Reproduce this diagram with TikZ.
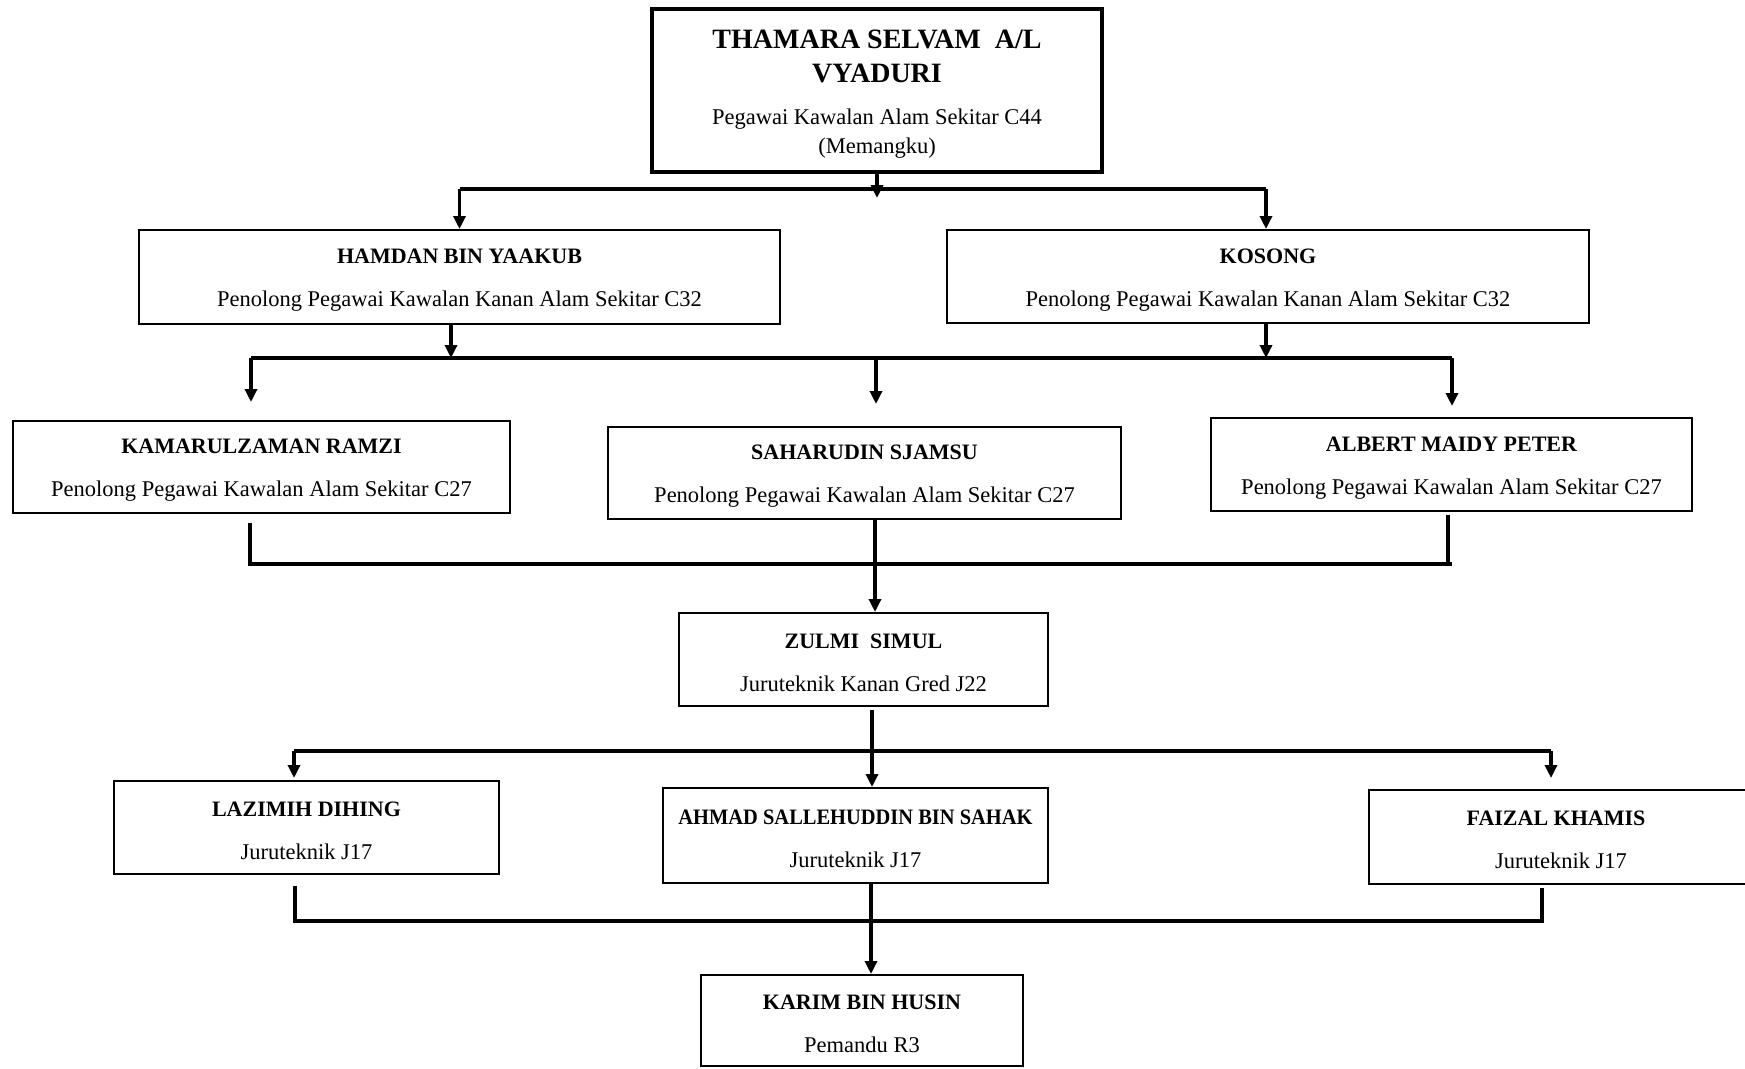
\documentclass[tikz,border=0pt]{standalone}
\usepackage{fontspec}
\setmainfont{Liberation Serif}
\usepackage{graphicx}
\usetikzlibrary{arrows.meta}
\newcommand\card[2]{{\fontsize{22}{26}\selectfont\bfseries\rule{0pt}{21pt}#1}\\[17pt]#2}
\begin{document}
\begin{tikzpicture}[x=1pt,y=-1pt,
  box/.style={draw, line width=2pt, inner sep=0pt, align=center, font=\fontsize{22.5}{26}\selectfont},
  txt/.style={inner sep=0pt, align=center},
  conn/.style={line width=3.3pt},
  arr/.style={conn, -{Triangle[length=13pt,width=12pt]}},
]
\useasboundingbox[fill=white] (0,0) rectangle (1745,1068);
\clip (0,0) rectangle (1745,1068);

% boxes
\node[box, line width=4pt, minimum width=450pt, minimum height=163pt] (top) at (877,90.5) {};
\node[txt, font=\fontsize{28}{34}\selectfont\bfseries] (topname) at (877,56) {THAMARA SELVAM\ \ A/L\\VYADURI};
\node[txt, font=\fontsize{22.5}{29}\selectfont] (topsub) at (877,134) {Pegawai Kawalan Alam Sekitar C44\\(Memangku)};

\node[box, minimum width=641pt, minimum height=94pt] (hamdan) at (459.5,277) {\card{HAMDAN BIN YAAKUB}{Penolong Pegawai Kawalan Kanan Alam Sekitar C32}};
\node[box, minimum width=642pt, minimum height=93pt] (kosong) at (1268,276.5) {\card{KOSONG}{Penolong Pegawai Kawalan Kanan Alam Sekitar C32}};

\node[box, minimum width=497pt, minimum height=92pt] (kam) at (261.5,467) {\card{KAMARULZAMAN RAMZI}{Penolong Pegawai Kawalan Alam Sekitar C27}};
\node[box, minimum width=513pt, minimum height=92pt] (sah) at (864.5,473) {\card{SAHARUDIN SJAMSU}{Penolong Pegawai Kawalan Alam Sekitar C27}};
\node[box, minimum width=481pt, minimum height=93pt] (alb) at (1451.5,464.5) {\card{ALBERT MAIDY PETER}{Penolong Pegawai Kawalan Alam Sekitar C27}};

\node[box, minimum width=369pt, minimum height=93pt] (zul) at (863.5,659.5) {\card{ZULMI\ \ SIMUL}{Juruteknik Kanan Gred J22}};

\node[box, minimum width=385pt, minimum height=93pt] (laz) at (306.5,827.5) {\card{LAZIMIH DIHING}{Juruteknik J17}};
\node[box, minimum width=385pt, minimum height=95pt] (ahm) at (855.5,835.5) {\card{\scalebox{0.93}[1]{AHMAD SALLEHUDDIN BIN SAHAK}}{Juruteknik J17}};
\node[box, minimum width=384pt, minimum height=94pt, anchor=west] (fai) at (1368,837) {\hspace*{-10pt}\card{FAIZAL KHAMIS}{Juruteknik J17}};

\node[box, minimum width=322pt, minimum height=91pt] (kar) at (862,1020.5) {\card{KARIM BIN HUSIN}{Pemandu R3}};

% bus coordinates
\coordinate (b1) at (0,189);
\coordinate (b2) at (0,358);
\coordinate (b3) at (0,564);
\coordinate (b4) at (0,751);
\coordinate (b5) at (0,921);

% level 1
\draw[conn] (hamdan.north |- b1) -- ([xshift=-2pt]kosong.north |- b1);
\draw[arr] (top.south) -- ([yshift=-9pt]top.south |- b1);
\draw[arr] (hamdan.north |- b1) -- (hamdan.north);
\draw[arr] ([xshift=-2pt]kosong.north |- b1) -- ([xshift=-2pt]kosong.north);

% level 2
\draw[arr] ([xshift=-8.5pt]hamdan.south) -- ([xshift=-8.5pt]hamdan.south |- b2);
\draw[arr] ([xshift=-2pt]kosong.south) -- ([xshift=-2pt]kosong.south |- b2);
\draw[conn] ([xshift=-10.5pt]kam.north |- b2) -- ([xshift=0.5pt]alb.north |- b2);
\draw[arr] ([xshift=-10.5pt]kam.north |- b2) -- ([xshift=-10.5pt,yshift=18pt]kam.north);
\draw[arr] ([xshift=11.5pt]sah.north |- b2) -- ([xshift=11.5pt,yshift=22pt]sah.north);
\draw[arr] ([xshift=0.5pt]alb.north |- b2) -- ([xshift=0.5pt,yshift=11pt]alb.north);

% level 3
\draw[conn] ([xshift=-11.5pt,yshift=-9pt]kam.south) -- ([xshift=-11.5pt]kam.south |- b3) -- ([xshift=0.5pt]alb.south |- b3);
\draw[conn] ([xshift=-3.5pt,yshift=-3pt]alb.south) -- ([xshift=-3.5pt]alb.south |- b3);
\draw[arr] ([xshift=10.5pt]sah.south) -- ([xshift=10.5pt]sah.south |- zul.north);

% level 4
\draw[arr] ([xshift=8.5pt,yshift=-3pt]zul.south) -- ([xshift=8.5pt]zul.south |- ahm.north);
\draw[conn] ([xshift=-12.5pt]laz.north |- b4) -- ([xshift=-10pt]fai.north |- b4);
\draw[arr] ([xshift=-12.5pt]laz.north |- b4) -- ([xshift=-12.5pt,yshift=2pt]laz.north);
\draw[arr] ([xshift=-10pt]fai.north |- b4) -- ([xshift=-10pt,yshift=11pt]fai.north);

% level 5
\draw[conn] ([xshift=-11.5pt,yshift=-11pt]laz.south) -- ([xshift=-11.5pt]laz.south |- b5) -- ([xshift=-19pt]fai.south |- b5) -- ([xshift=-19pt,yshift=-3pt]fai.south);
\draw[arr] ([xshift=15.5pt]ahm.south) -- ([xshift=15.5pt]ahm.south |- kar.north);
\end{tikzpicture}
\end{document}
